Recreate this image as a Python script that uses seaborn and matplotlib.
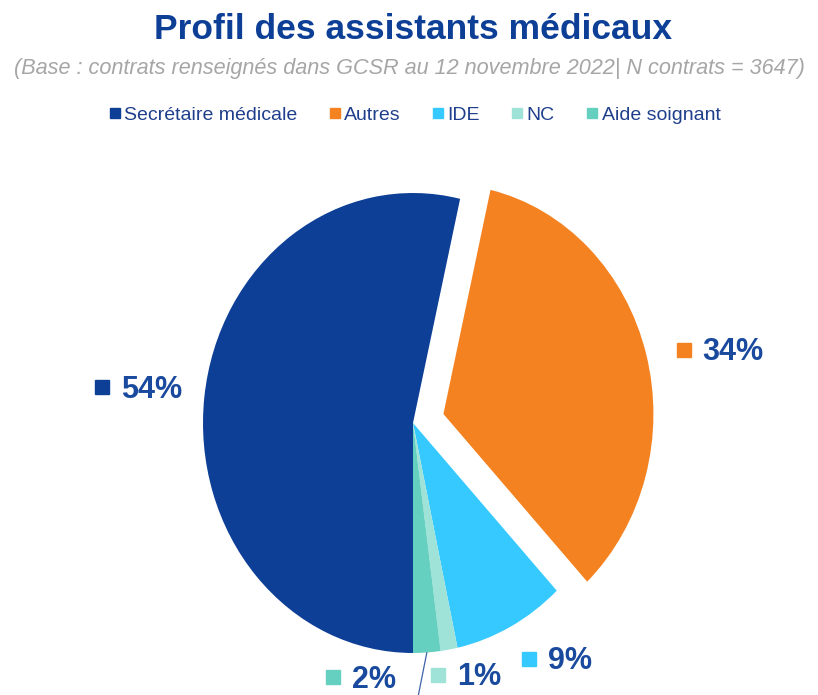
import numpy as np
import matplotlib
matplotlib.use("Agg")
import matplotlib.pyplot as plt
from matplotlib.lines import Line2D
import seaborn as sns

# data (shares in %, sum = 100)
categories = ["Secrétaire médicale", "Autres", "IDE", "NC", "Aide soignant"]
shares = [53.6, 34.4, 8.6, 1.3, 2.1]
colors = ["#0D3F96", "#F58220", "#36C9FF", "#9FE2D8", "#66D0C0"]

title = "Profil des assistants médicaux"
subtitle = "(Base : contrats renseignés dans GCSR au 12 novembre 2022| N contrats = 3647)"

sns.set_theme(style="white")
plt.rcParams["font.family"] = ["Liberation Sans", "DejaVu Sans"]

text_blue = "#1A4A9E"

fig = plt.figure(figsize=(8.18, 6.95), dpi=100)
ax = fig.add_axes([0, 0, 1, 1])

explode = [0, 0.15, 0, 0, 0]
wedges, _ = ax.pie(shares, colors=colors, explode=explode, startangle=-90,
                   counterclock=False, wedgeprops={"linewidth": 0})

# the reference pie is slightly squeezed horizontally
cx, cy, rx, ry = 413, 423, 210, 230
ax.set_aspect("auto")
ax.set_xlim(-cx / rx, (818 - cx) / rx)
ax.set_ylim((cy - 695) / ry, cy / ry)
ax.axis("off")

# label placement: (distance, angle shift in degrees)
label_pos = [(1.29, 0), (1.37, -3.8), (1.28, 8.4), (1.15, 6.2), (1.13, -13.0)]
for i, w in enumerate(wedges):
    mid = np.deg2rad((w.theta1 + w.theta2) / 2)
    d, shift = label_pos[i]
    a = mid + np.deg2rad(shift)
    x = w.center[0] + d * np.cos(a)
    y = w.center[1] + d * np.sin(a)
    ax.plot(x - 0.2, y + 0.01, marker="s", ms=10, color=colors[i], ls="none",
            clip_on=False)
    ax.text(x - 0.11, y, f"{round(shares[i])}%", ha="left", va="center",
            fontsize=22, fontweight="bold", color=text_blue)
    if categories[i] == "Aide soignant":
        ex = w.center[0] + np.cos(mid)
        ey = w.center[1] + np.sin(mid)
        ax.plot([ex, ex - 0.08], [ey, y - 0.25], color="#3E64A8", lw=0.9,
                clip_on=True)

fig.text(0.505, 0.957, title, ha="center", va="center", fontsize=25.5,
         fontweight="bold", color="#0D3F96")
fig.text(0.5, 0.902, subtitle, ha="center", va="center", fontsize=15.6,
         style="italic", color="#A6A6A6")

handles = [Line2D([0], [0], marker="s", ls="none", ms=7.5, color=c) for c in colors]
fig.legend(handles, categories, loc="center", bbox_to_anchor=(0.507, 0.834),
           ncol=5, frameon=False, fontsize=14, handlelength=0.6,
           handletextpad=0.2, columnspacing=1.6, labelcolor="#1F3F8C")

fig.savefig("out.png", dpi=100)
